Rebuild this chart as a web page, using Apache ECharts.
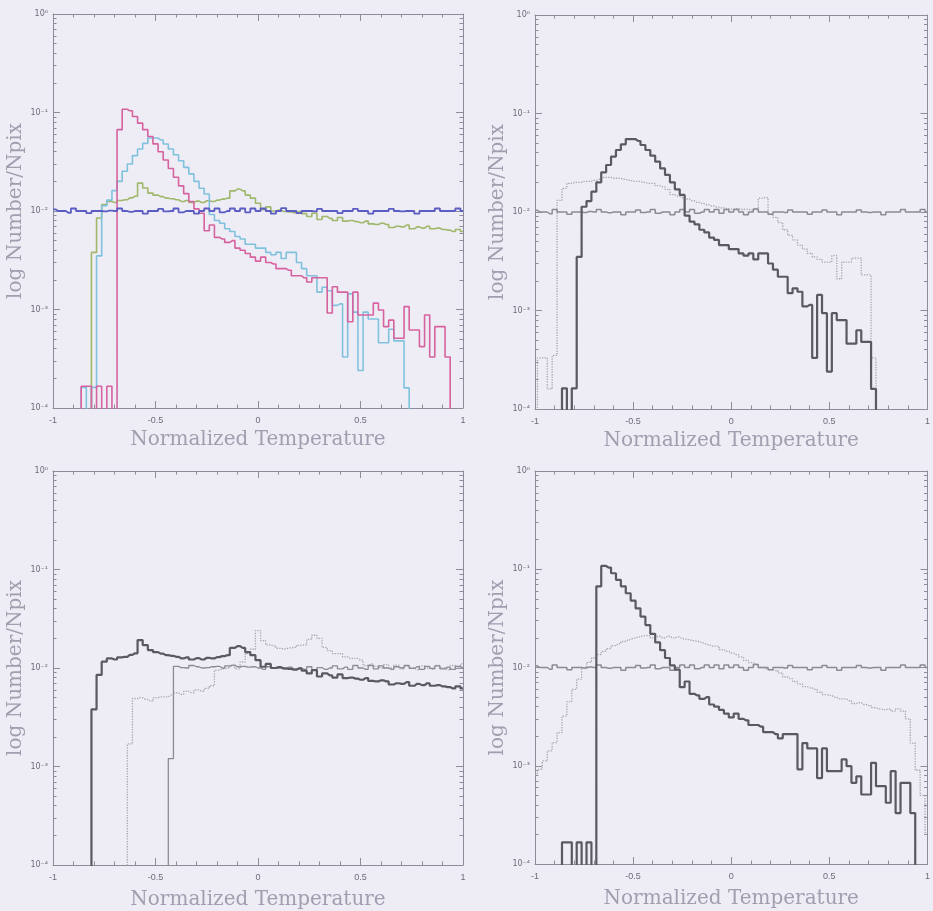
<!DOCTYPE html>
<html><head><meta charset="utf-8">
<script src="https://cdn.jsdelivr.net/npm/echarts@6/dist/echarts.min.js"></script>
<style>html,body{margin:0;padding:0;background:#eeecf5;}#c{width:933px;height:911px;}</style>
</head><body><div id="c"></div>
<script>
// Histogram bins: centres at -1, -0.975, ..., 1 (81 bins of width 0.025)
const binStart = -1, binWidth = 0.025;
const xTickLabels = ['-1', '-0.5', '0', '0.5', '1'];
const yTickLabels = {'0': '10⁰', '-1': '10⁻¹', '-2': '10⁻²', '-3': '10⁻³', '-4': '10⁻⁴'};

// Peaked distribution (pink in panel 1, dark in panel 4)
const pinkHist = [0,0,0,0,0,0,
  1.66e-4,1.66e-4,0,1.66e-4,0,1.66e-4,0,
  0.067,0.108,0.104,0.091,0.078,0.067,0.057,0.048,0.040,0.033,0.027,0.022,0.018,0.015,0.0125,0.0105,0.0095,
  0.0063,0.0072,0.0054,0.0052,0.0048,0.0050,0.0042,0.0040,0.0037,
  0.0034,0.0031,0.0034,0.0030,0.0029,0.0026,0.0026,0.0025,0.0022,0.0022,0.0021,0.0019,0.0021,0.0021,0.0021,
  0.00092,0.0017,0.0015,0.0015,0.00075,0.0015,0.00088,0.00088,0.00088,0.00116,
  0.00099,0.00067,0.00078,0.00051,0.00051,0.00107,0.00062,0.00062,0.00042,0.00088,
  0.00033,0.00067,0.00067,0.00033,
  0,0,0];
// Broad peak (cyan in panel 1, dark in panel 2)
const cyanHist = [0,0,0,0,0,0,
  1.62e-4,0,1.62e-4,
  0.0035,0.0113,0.0129,0.0161,0.020,0.0253,0.030,0.0365,0.0426,0.0486,0.055,0.055,0.0526,0.0479,0.0426,0.0373,0.0324,0.0277,0.0238,0.020,0.017,0.0149,
  0.0092,0.0080,0.0075,0.0066,0.0062,0.0055,0.0052,0.0046,
  0.0046,0.0042,0.0042,0.0038,0.0036,0.0038,0.0033,0.0038,0.0038,0.0030,
  0.0026,0.0022,0.0022,0.0015,0.00168,0.00155,0.0011,0.00114,0.00033,0.00144,
  0.00094,0.00024,0.00094,0.0008,0.0008,0.00046,0.00046,0.00063,0.00048,0.00048,
  0.00016,
  0,0,0,0,0,0,0,0,0,0,0];
// Flat-ish distribution (green in panel 1, dark in panel 3)
const greenHist = [0,0,0,0,0,0,0,0,
  0.0038,0.0085,0.0116,0.0125,0.0122,0.0128,0.0130,0.0136,0.0141,
  0.0192,0.0171,0.0152,0.0145,0.0140,0.0135,0.0133,0.0130,0.0125,0.0128,0.0122,0.0126,0.0122,0.0127,0.0125,0.0129,0.0132,0.0135,
  0.0160,0.0167,0.0160,0.0145,0.0135,0.0120,0.0103,0.0110,0.0100,0.0102,
  0.0099,0.0098,0.0096,0.0099,0.0094,0.0088,0.0095,0.0082,0.0088,0.0084,
  0.0080,0.0086,0.0079,0.0080,0.0078,0.0076,0.0079,0.0074,0.0073,0.0075,
  0.0073,0.0068,0.0070,0.0069,0.0072,0.0066,0.0069,0.0067,0.0070,0.0066,
  0.0067,0.0065,0.0064,0.0062,0.0065,0.0062];
// Uniform distribution (blue in panel 1, flat grey in panels 2 and 4)
const uniformHist = [0.0104,0.0100,0.0100,0.0096,0.0106,0.0100,0.0100,0.0095,0.0100,0.0100,
  0.0099,0.0101,0.0100,0.0106,0.0100,0.0098,0.0100,0.0100,0.0094,0.0100,
  0.0100,0.0105,0.0099,0.0100,0.0106,0.0097,0.0100,0.0100,0.0094,0.0100,
  0.0106,0.0100,0.0106,0.0097,0.0100,0.0106,0.0100,0.0106,0.0097,0.0106,
  0.0100,0.0106,0.0100,0.0094,0.0100,0.0107,0.0100,0.0100,0.0095,0.0100,
  0.0100,0.0099,0.0105,0.0100,0.0100,0.0100,0.0095,0.0100,0.0100,0.0105,
  0.0100,0.0100,0.0094,0.0100,0.0100,0.0100,0.0105,0.0100,0.0099,0.0100,
  0.0100,0.0094,0.0100,0.0100,0.0100,0.0106,0.0100,0.0100,0.0100,0.0106,0.0100];
// Dotted comparison curve, panel 2
const dottedP2 = [0,0.00033,0.00033,0.00016,0.00035,
  0.0131,0.0174,0.0195,0.0200,0.0200,0.0205,0.0205,0.0210,0.0215,0.0225,0.0225,0.0220,0.0220,0.0215,0.0210,
  0.0205,0.0205,0.0200,0.0195,0.0195,0.0185,0.0180,0.0170,0.0150,0.0145,
  0.0140,0.0135,0.0130,0.0125,0.0122,0.0118,0.0115,0.0112,0.0110,0.0108,
  0.0107,0.0108,0.0106,0.0107,0.0105,0.0108,0.0138,0.0140,0.0095,0.0088,
  0.0078,0.0066,0.0058,0.0052,0.0046,0.0042,0.0038,0.0035,0.0033,0.0031,
  0.0031,0.0036,0.0021,0.0031,0.0031,0.0034,0.0034,0.0023,0.0023,0.00033,
  0,0,0,0,0,0,0,0,0,0,0];
// Dotted comparison curve, panel 3
const dottedP3 = [0,0,0,0,0,0,0,0,0,0,0,0,0,0,0,
  0.0017,0.0049,0.0050,0.0048,0.0046,0.0050,0.0051,0.0051,0.0053,0.0056,
  0.0054,0.0058,0.0056,0.0060,0.0058,0.0062,0.0066,0.0095,0.0098,0.0100,
  0.0105,0.0098,0.0115,0.0140,0.0155,0.0240,0.0190,0.0172,0.0168,0.0158,
  0.0156,0.0160,0.0162,0.0170,0.0172,0.0195,0.0215,0.0200,0.0162,0.0150,
  0.0140,0.0140,0.0130,0.0125,0.0125,0.0120,0.0106,0.0110,0.0104,0.0100,
  0.0108,0.0100,0.0107,0.0098,0.0105,0.0100,0.0096,0.0105,0.0100,0.0097,
  0.0106,0.0100,0.0096,0.0106,0.0100,0.0110];
// Thin solid comparison curve, panel 3
const thinP3 = [0,0,0,0,0,0,0,0,0,0,0,0,0,0,0,0,0,0,0,0,0,0,0,
  0.0012,
  0.0104,0.0101,0.0100,0.0106,0.0103,0.0100,0.0101,0.0103,0.0104,0.0100,
  0.0105,0.0107,0.0103,0.0104,0.0102,0.0103,0.0100,0.0097,0.0103,0.0099,
  0.0100,0.0098,0.0102,0.0098,0.0100,0.0097,0.0103,0.0096,0.0101,0.0097,
  0.0100,0.0105,0.0098,0.0102,0.0097,0.0106,0.0100,0.0097,0.0106,0.0098,
  0.0105,0.0100,0.0097,0.0103,0.0100,0.0106,0.0099,0.0103,0.0097,0.0104,
  0.0099,0.0105,0.0098,0.0102,0.0097,0.0104,0.0100];
// Dotted comparison curve, panel 4
const dottedP4 = [0.00082,0.00092,0.00112,0.00142,0.00172,0.00217,0.0032,0.0045,0.0060,0.0076,
  0.0099,0.0113,0.0125,0.0135,0.0146,0.0156,0.0167,0.0175,0.0184,0.0192,
  0.0199,0.0205,0.0211,0.0211,0.0200,0.0208,0.0200,0.0208,0.0200,0.0205,
  0.0196,0.0192,0.0188,0.0184,0.0178,0.0171,0.0165,0.0165,0.0152,0.0146,
  0.0140,0.0135,0.0128,0.0118,0.0112,0.0108,0.0100,0.0097,0.0095,0.0093,
  0.0088,0.0080,0.0077,0.0072,0.0068,0.0064,0.0062,0.0060,0.0056,0.0053,
  0.0052,0.0050,0.0048,0.0048,0.0046,0.0043,0.0044,0.0042,0.0041,0.0039,
  0.0038,0.0037,0.0038,0.0036,0.0038,0.0036,0.0030,0.0017,0.0009,0.0005,0.0002];

const EMPTY_FLOOR = 1e-7; // empty bins fall below the axis and are clipped
const yMinorTicks = [];
for (let d = -4; d < 0; d++) for (let m = 2; m <= 9; m++) yMinorTicks.push(+(m * Math.pow(10, d)).toPrecision(3));

const AX = '#8e8c9a', LBL = '#6e6c7a', TTL = '#a19eb0';
const panels = [
  {left: 53, top: 14, height: 394, gap: 22, lines: [
    {d: greenHist, c: '#9fb86a', w: 1.6},
    {d: cyanHist, c: '#80c2de', w: 1.6},
    {d: pinkHist, c: '#d6629f', w: 1.6},
    {d: uniformHist, c: '#5b5dc3', w: 1.8}]},
  {left: 535, top: 15, height: 394, gap: 22, lines: [
    {d: dottedP2, c: '#a6a5ae', w: 1.3, t: 'dotted'},
    {d: uniformHist, c: '#8c8b94', w: 1.5},
    {d: cyanHist, c: '#5a5961', w: 2.2}]},
  {left: 53, top: 471, height: 394, gap: 25, lines: [
    {d: dottedP3, c: '#a6a5ae', w: 1.3, t: 'dotted'},
    {d: thinP3, c: '#8c8b94', w: 1.3},
    {d: greenHist, c: '#5a5961', w: 2.2}]},
  {left: 535, top: 471, height: 393, gap: 25, lines: [
    {d: dottedP4, c: '#a6a5ae', w: 1.3, t: 'dotted'},
    {d: uniformHist, c: '#8c8b94', w: 1.5},
    {d: pinkHist, c: '#5a5961', w: 2.2}]}
];

const grid = [], xAxis = [], yAxis = [], series = [];
const titleStyle = {fontFamily: 'DejaVu Serif', fontSize: 20, color: TTL};
panels.forEach((p, g) => {
  grid.push({left: p.left, top: p.top, width: 410, height: p.height});
  const xBase = {gridIndex: g, type: 'value', min: -1, max: 1, interval: 0.5,
    axisLine: {show: true, onZero: false, lineStyle: {color: AX, width: 1}},
    axisTick: {show: true, inside: true, length: 7, lineStyle: {color: AX}},
    minorTick: {show: true, splitNumber: 5, length: 3.5, lineStyle: {color: AX}},
    splitLine: {show: false}, minorSplitLine: {show: false}};
  xAxis.push(Object.assign({}, xBase, {position: 'bottom',
    axisLabel: {show: true, fontSize: 9, color: LBL, fontFamily: 'Liberation Sans', margin: 8,
      formatter: v => xTickLabels[Math.round((v + 1) / 0.5)]},
    name: 'Normalized Temperature', nameLocation: 'middle', nameGap: p.gap, nameTextStyle: titleStyle}));
  xAxis.push(Object.assign({}, xBase, {position: 'top', axisLabel: {show: false}}));
  const yBase = {gridIndex: g, type: 'log', logBase: 10, min: 1e-4, max: 1,
    axisLine: {show: true, onZero: false, lineStyle: {color: AX, width: 1}},
    axisTick: {show: true, inside: true, length: 7, lineStyle: {color: AX}},
    splitLine: {show: false}};
  const yMinor = {gridIndex: g, type: 'log', logBase: 10, min: 1e-4, max: 1,
    axisLine: {show: false, onZero: false}, axisLabel: {show: false}, splitLine: {show: false},
    axisTick: {show: true, inside: true, length: 3.5, customValues: yMinorTicks, lineStyle: {color: AX}}};
  yAxis.push(Object.assign({}, yBase, {position: 'left',
    axisLabel: {show: true, fontSize: 8, color: LBL, fontFamily: 'DejaVu Sans', margin: 5,
      formatter: v => yTickLabels[String(Math.round(Math.log10(v)))]},
    name: 'log Number/Npix', nameLocation: 'middle', nameGap: 27, nameTextStyle: titleStyle}));
  yAxis.push(Object.assign({}, yMinor, {position: 'left'}));
  yAxis.push(Object.assign({}, yBase, {position: 'right', axisLabel: {show: false}}));
  yAxis.push(Object.assign({}, yMinor, {position: 'right'}));
  p.lines.forEach(l => {
    series.push({type: 'line', step: 'middle', xAxisIndex: 2 * g, yAxisIndex: 4 * g,
      symbol: 'none', clip: true, silent: true, animation: false,
      lineStyle: {color: l.c, width: l.w, type: l.t || 'solid'},
      data: l.d.map((v, i) => [binStart + i * binWidth, v > 0 ? v : EMPTY_FLOOR])});
  });
});

const chart = echarts.init(document.getElementById('c'), null, {renderer: 'canvas', width: 933, height: 911});
chart.setOption({backgroundColor: '#eeecf5', animation: false, grid, xAxis, yAxis, series});
</script>
</body></html>
